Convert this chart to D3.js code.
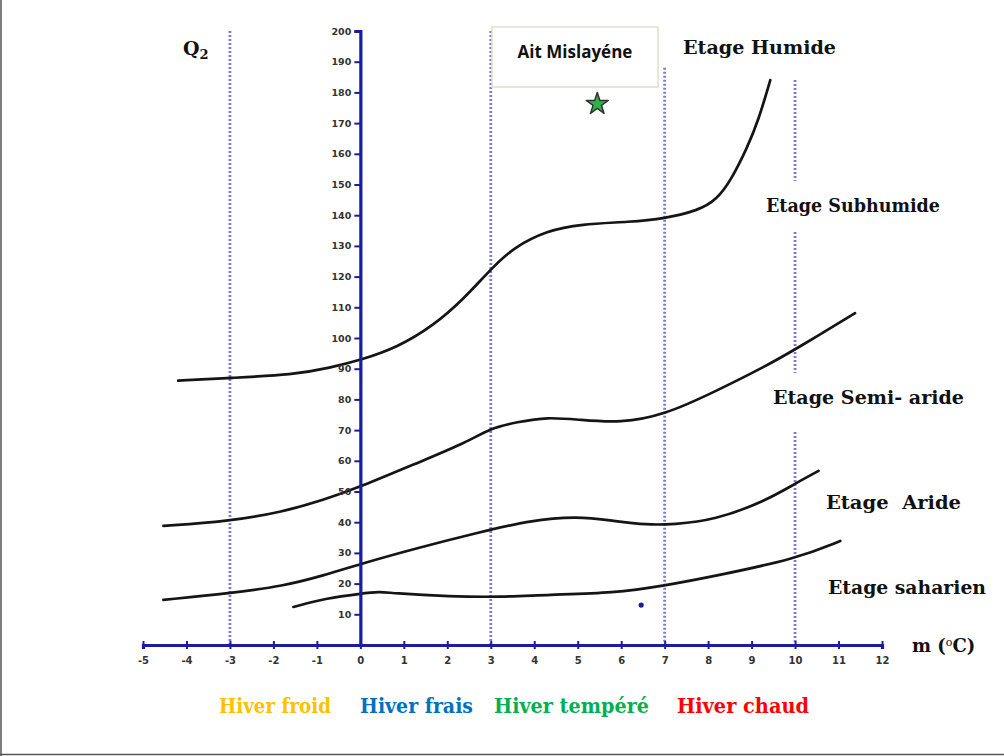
<!DOCTYPE html>
<html>
<head>
<meta charset="utf-8">
<script src="https://cdn.jsdelivr.net/npm/d3@7"></script>
<style>
  html, body { margin: 0; padding: 0; background: #fff; }
  svg { display: block; }
</style>
</head>
<body>
<script>
// ---------- DATA ----------
const xTicks = [-5,-4,-3,-2,-1,0,1,2,3,4,5,6,7,8,9,10,11,12];
const yTicks = [10,20,30,40,50,60,70,80,90,100,110,120,130,140,150,160,170,180,190,200];

// boundary curves [m (°C), Q2]
const limitHumide = [[-4.19,86.1],[-2.99,87.0],[-1.54,88.0],[-0.69,90.3],[0,92.8],[0.85,96.9],[1.68,104.0],[2.37,112.6],[2.99,122.3],[3.52,129.5],[4.30,135.0],[5.06,137.1],[6.21,137.8],[6.99,138.9],[7.77,141.5],[8.2,145.0],[8.55,152.0],[8.9,162.0],[9.16,171.0],[9.43,184.0]];
const limitSubhumide = [[-4.53,38.8],[-3.06,40.2],[-1.77,43.4],[-0.85,47.2],[0,51.5],[1.31,59.3],[2.46,66.1],[2.99,70.6],[3.6,72.6],[4.30,74.3],[5.06,73.3],[5.98,72.3],[6.99,74.9],[8.14,82.4],[9.31,90.7],[10.02,96.4],[11.38,108.1]];
const limitSemiAride = [[-4.53,14.7],[-2.99,16.9],[-1.77,19.2],[-0.85,22.6],[0,26.4],[1.31,31.6],[2.76,36.8],[3.91,40.6],[4.99,42.0],[5.84,40.4],[6.60,39.1],[7.2,39.3],[8.14,40.6],[9.32,46.9],[10.03,52.8],[10.54,56.7]];
const limitAride = [[-1.54,12.4],[-0.76,15.3],[0,16.7],[0.46,17.4],[0.7,16.9],[2.07,15.8],[3.22,15.6],[4.30,16.4],[5.84,16.9],[6.99,19.3],[8.14,22.4],[10.03,28.1],[11.04,33.9]];

// winter type boundaries (m) and where each dotted line stops (Q2)
const winterLimits = [-3, 3, 7, 10];
const winterLimitTops = [200, 200, 188, 184];

const station = { name: "Ait Mislayéne", m: 5.45, q2: 176.2 };
const extraPoint = [[6.46, 13.0]];

const zoneLabels = ["Etage Humide","Etage Subhumide","Etage Semi- aride","Etage  Aride","Etage saharien"];
const winterLabels = ["Hiver froid","Hiver frais","Hiver tempéré","Hiver chaud"];
const winterColors = ["#ffc000","#0070c0","#00b050","#ff0000"];

// ---------- CHART ----------
const W = 1004, H = 756;
const svg = d3.select("body").append("svg").attr("width", W).attr("height", H);

svg.append("rect").attr("width", W).attr("height", H).attr("fill", "#fff");
// outer frame (left & bottom visible)
svg.append("line").attr("x1",1).attr("x2",1).attr("y1",0).attr("y2",H).attr("stroke","#555").attr("stroke-width",1.5);
svg.append("line").attr("x1",0).attr("x2",W).attr("y1",H-1.5).attr("y2",H-1.5).attr("stroke","#555").attr("stroke-width",1.5);

const x = d3.scaleLinear().domain([-5, 12]).range([143, 882]);
const y = d3.scaleLinear().domain([0, 200]).range([645, 31]);

const axisBlue = "#1c1ca0";
const dotBlue = "#7b7bd6";

// dotted winter limits
svg.append("g").selectAll("line").data(winterLimits).join("line")
  .attr("x1", d => x(d)).attr("x2", d => x(d))
  .attr("y1", (d,i) => y(winterLimitTops[i])).attr("y2", y(0))
  .attr("stroke", dotBlue).attr("stroke-width", 2.8)
  .attr("stroke-dasharray", "2,2");

// curves
const line = d3.line().x(d => x(d[0])).y(d => y(d[1])).curve(d3.curveBasis);
svg.append("g").selectAll("path")
  .data([limitHumide, limitSubhumide, limitSemiAride, limitAride]).join("path")
  .attr("d", line).attr("fill","none").attr("stroke","#151515")
  .attr("stroke-width", 2.7).attr("stroke-linecap","round");

// X axis
const xAxis = svg.append("g").attr("transform", `translate(0,${y(0)})`)
  .call(d3.axisBottom(x).tickValues(xTicks).tickSizeOuter(0).tickSize(4).tickFormat(d => String(d)));
xAxis.select(".domain").attr("stroke", axisBlue).attr("stroke-width", 3.2);
xAxis.selectAll(".tick line").attr("stroke", axisBlue).attr("stroke-width", 2).attr("y1", -4).attr("y2", 4);
xAxis.selectAll(".tick text").attr("y", 12).attr("fill","#333")
  .style("font-family","DejaVu Sans").style("font-weight","bold").style("font-size","10px");

// Y axis
const yAxis = svg.append("g").attr("transform", `translate(${x(0)},0)`)
  .call(d3.axisLeft(y).tickValues(yTicks).tickSizeOuter(0).tickSize(6).tickFormat(d => String(d)));
yAxis.select(".domain").attr("stroke", axisBlue).attr("stroke-width", 3.2);
yAxis.selectAll(".tick line").attr("stroke", axisBlue).attr("stroke-width", 2);
yAxis.selectAll(".tick text").attr("x", -9).attr("fill","#333")
  .style("font-family","DejaVu Sans").style("font-weight","bold").style("font-size","9.5px");

// small blue dot
svg.append("g").selectAll("circle").data(extraPoint).join("circle")
  .attr("cx", d => x(d[0])).attr("cy", d => y(d[1])).attr("r", 2.6).attr("fill", axisBlue);

// station box
const box = svg.append("g");
box.append("rect").attr("x", 492).attr("y", 27).attr("width", 166).attr("height", 60)
  .attr("fill","#fff").attr("stroke","#e2ddcc").attr("stroke-width",1.5);
box.append("text").attr("x", 575).attr("y", 58).attr("text-anchor","middle")
  .style("font-family","Open Sans").style("font-weight","bold").style("font-size","17px")
  .attr("fill","#111").text(station.name);

// star
svg.append("path").attr("d", d3.symbol().type(d3.symbolStar).size(150)())
  .attr("transform", `translate(${x(station.m)},${y(station.q2)})`)
  .attr("fill","#2db34a").attr("stroke","#333").attr("stroke-width",1.5).attr("stroke-linejoin","round");

// zone labels
const serif = "DejaVu Serif";
const zonePos = [
  {x:683, y:54, w:153},
  {x:766, y:212, w:174},
  {x:773, y:404, w:191},
  {x:826, y:509, w:135},
  {x:828, y:594, w:158}
];
// white backgrounds interrupting the dotted line (as in reference)
[[760,181,185,49],[768,373,200,57]].forEach(r => {
  svg.append("rect").attr("x",r[0]).attr("y",r[1]).attr("width",r[2]).attr("height",r[3]).attr("fill","#fff");
});
svg.append("g").selectAll("text").data(zoneLabels).join("text")
  .attr("x", (d,i) => zonePos[i].x).attr("y", (d,i) => zonePos[i].y)
  .attr("textLength", (d,i) => zonePos[i].w).attr("lengthAdjust","spacingAndGlyphs")
  .style("font-family", serif).style("font-weight","bold").style("font-size","19px")
  .attr("fill","#111").style("white-space","pre").text(d => d);

// Q2 label
const q = svg.append("text").attr("x", 183).attr("y", 55)
  .style("font-family", serif).style("font-weight","bold").style("font-size","19px").attr("fill","#111");
q.append("tspan").text("Q");
q.append("tspan").attr("dy", 4).style("font-size","13px").text("2");

// m (°C) label
const mt = svg.append("text").attr("x", 912).attr("y", 652)
  .style("font-family", serif).style("font-weight","bold").style("font-size","18px").attr("fill","#111");
mt.append("tspan").text("m (");
mt.append("tspan").attr("dy", -6).style("font-size","11px").style("font-weight","normal").text("o");
mt.append("tspan").attr("dy", 6).text("C)");

// winter legend
const legX = [219, 360, 494, 677];
const legW = [112, 113, 155, 132];
svg.append("g").selectAll("text").data(winterLabels).join("text")
  .attr("x", (d,i) => legX[i]).attr("y", 713)
  .attr("textLength", (d,i) => legW[i]).attr("lengthAdjust","spacingAndGlyphs")
  .style("font-family", serif).style("font-weight","bold").style("font-size","20px")
  .attr("fill", (d,i) => winterColors[i]).text(d => d);
</script>
</body>
</html>
